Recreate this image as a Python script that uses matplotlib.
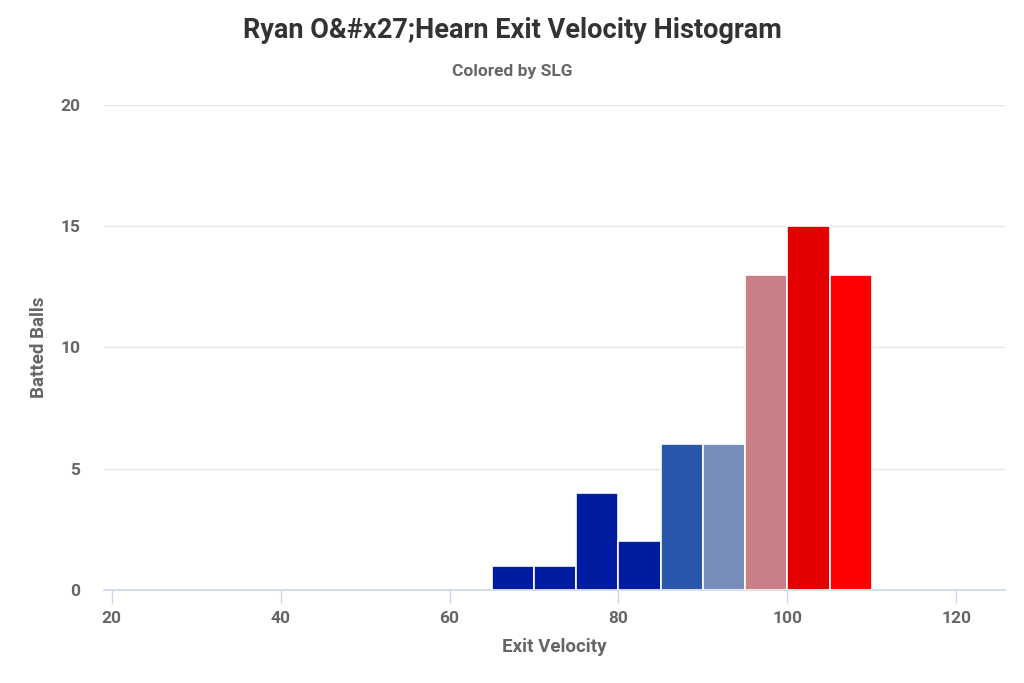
import numpy as np
import matplotlib
matplotlib.use("Agg")
from matplotlib import pyplot as plt

# histogram bins (5 mph wide) and counts of batted balls
bin_left = [65, 70, 75, 80, 85, 90, 95, 100, 105]
counts = [1, 1, 4, 2, 6, 6, 13, 15, 13]
bar_colors = ["#001ca0", "#001ca0", "#001ca0", "#001ca0", "#2957ab",
              "#778cb8", "#c88086", "#e30000", "#ff0000"]
bin_width = 5

x_ticks = [20, 40, 60, 80, 100, 120]
y_ticks = [0, 5, 10, 15, 20]

plt.rcParams['font.family'] = ['Roboto', 'DejaVu Sans']

fig = plt.figure(figsize=(10.24, 6.83), dpi=100)
ax = fig.add_axes([0.1016, 0.1362, 0.8794, 0.7101])

ax.bar(bin_left, counts, width=bin_width, align='edge', color=bar_colors,
       edgecolor='white', linewidth=1.2, zorder=3)

ax.set_xlim(19.1, 125.7)
ax.set_ylim(0, 20)
ax.set_xticks(x_ticks)
ax.set_yticks(y_ticks)
ax.yaxis.grid(True, color='#e6e6e6', linewidth=1)
ax.set_axisbelow(True)

for s in ['top', 'right', 'left']:
    ax.spines[s].set_visible(False)
ax.spines['bottom'].set_color('#ccd6eb')
ax.spines['bottom'].set_linewidth(1.2)

ax.tick_params(axis='x', colors='#ccd6eb', length=9, width=1, direction='out',
               labelcolor='#666666', labelsize=12.5, pad=6)
ax.tick_params(axis='y', length=0, labelcolor='#666666', labelsize=12.5, pad=17)
for lab in ax.get_xticklabels() + ax.get_yticklabels():
    lab.set_fontweight('bold')

ax.set_xlabel("Exit Velocity", fontsize=13.5, fontweight='bold', color='#666666', labelpad=9)
ax.set_ylabel("Batted Balls", fontsize=13.5, fontweight='bold', color='#666666', labelpad=9)

fig.text(0.5, 0.955, "Ryan O&#x27;Hearn Exit Velocity Histogram", ha='center', va='center',
         fontsize=19.5, fontweight='bold', color='#333333')
fig.text(0.5, 0.895, "Colored by SLG", ha='center', va='center',
         fontsize=12.5, fontweight='bold', color='#666666')

fig.savefig("out.png", dpi=100, facecolor='white')
